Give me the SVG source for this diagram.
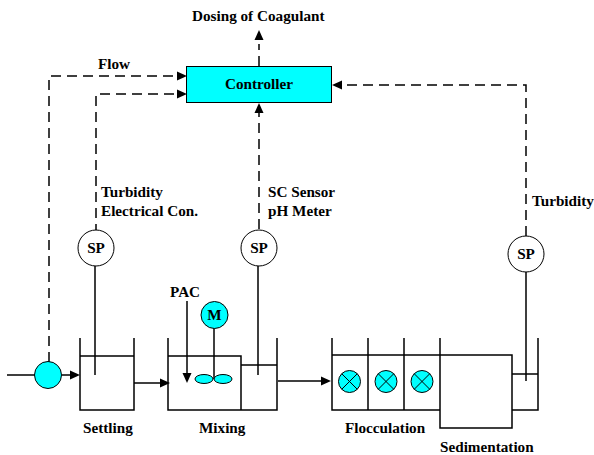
<svg xmlns="http://www.w3.org/2000/svg" width="594" height="455" viewBox="0 0 594 455">
<style>
text{font-family:"Liberation Serif","Times New Roman",serif;font-weight:bold;font-size:15.2px;fill:#000}
.l{fill:none;stroke:#000;stroke-width:1.5}
.d{fill:none;stroke:#000;stroke-width:1.5;stroke-dasharray:10 6}
.c{fill:#00ffff;stroke:#000;stroke-width:1}
.w{fill:#fff;stroke:#000;stroke-width:1}
.a{fill:#000;stroke:none}
</style>
<defs>
<g id="x"><circle class="c" r="11"/><path class="l" d="M-7.800-7.800L7.800 7.800M-7.800 7.800L7.800-7.800" style="stroke-width:1"/></g>
</defs>
<g id="connectors">
<path class="d" d="M49 362V76H178"/>
<path class="a" d="M187 76l-10-4.500v9z"/>
<path class="d" d="M96 234V94H178"/>
<path class="a" d="M187 94l-10-4.500v9z"/>
<path class="d" d="M259 66V44"/>
<path class="a" d="M259 30l-4.500 10h9z"/>
<path class="d" d="M259 229V112"/>
<path class="a" d="M259 103l-4.500 10h9z"/>
<path class="d" d="M526 236V85H340"/>
<path class="a" d="M332 85l10-4.500v9z"/>
<path class="l" d="M7 375H35M62 375H72"/>
<path class="a" d="M80 375l-10-4.500v9z"/>
<path class="l" d="M134 383H162"/>
<path class="a" d="M170 383l-10-4.500v9z"/>
<path class="l" d="M278 381H323"/>
<path class="a" d="M331 381l-10-4.500v9z"/>
<path class="l" d="M187 301V376"/>
<path class="a" d="M187 383l-4.500-10h9z"/>
<path class="l" d="M95 266V375M258 266V375M526 272V381"/>
</g>
<g id="settling"><path class="l" d="M80 338V410H134V338M80 356H134"/><text x="83" y="433">Settling</text></g>
<g id="mixing"><path class="l" d="M168 338V410H277V338M168 356H241V410M241 365H277"/><text x="199" y="433">Mixing</text></g>
<g id="motor"><path class="l" d="M214 328V379"/><ellipse class="c" cx="204" cy="379" rx="9" ry="4.500"/><ellipse class="c" cx="223" cy="379" rx="9" ry="4.500"/><circle class="c" cx="214.500" cy="315" r="13.500"/><text x="214.500" y="320" text-anchor="middle">M</text></g>
<g id="pump"><circle class="c" cx="48" cy="375" r="13.500"/></g>
<g id="pac"><text x="170" y="297">PAC</text></g>
<g id="flocculation"><path class="l" d="M332 338V410H440M368 338V410M404 338V410M332 355H440"/><use href="#x" x="349.500" y="381.500"/><use href="#x" x="386" y="381.500"/><use href="#x" x="422" y="381.500"/><text x="345" y="433">Flocculation</text></g>
<g id="sedimentation"><path class="l" d="M440 338V428H512V355H440M512 374H538M538 338V410H512"/><text x="440" y="452">Sedimentation</text></g>
<g id="controller"><rect class="c" x="186.500" y="66.500" width="145" height="36"/><text x="259" y="89" text-anchor="middle">Controller</text></g>
<g id="sp1"><circle class="w" cx="96" cy="248" r="18"/><text x="96" y="253" text-anchor="middle">SP</text></g>
<g id="sp2"><circle class="w" cx="259" cy="248" r="18"/><text x="259" y="253" text-anchor="middle">SP</text></g>
<g id="sp3"><circle class="w" cx="526" cy="254" r="18"/><text x="526" y="259" text-anchor="middle">SP</text></g>
<g id="labels">
<text x="192" y="21">Dosing of Coagulant</text>
<text x="98" y="69">Flow</text>
<text x="101" y="197">Turbidity</text>
<text x="101" y="216">Electrical Con.</text>
<text x="268" y="197">SC Sensor</text>
<text x="268" y="216">pH Meter</text>
<text x="532" y="206">Turbidity</text>
</g>
</svg>
